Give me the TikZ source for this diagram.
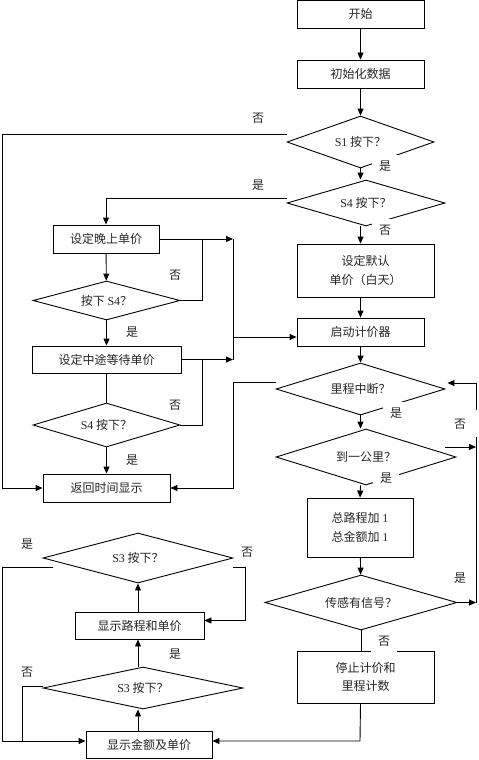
\documentclass[tikz,border=0pt]{standalone}
\usepackage{fontspec}
\setmainfont{Liberation Serif}
\newfontfamily\cjk{Noto Sans CJK SC}
\usetikzlibrary{shapes.geometric,arrows.meta,calc}
\newcommand{\lt}[1]{{\rmfamily #1}}
\begin{document}
\begin{tikzpicture}[x=1pt,y=-1pt,
  every node/.style={text=black!85},
  box/.style={draw, rectangle, inner sep=0pt, line width=0.9pt, align=center,
    font=\cjk\fontsize{12}{18.5}\selectfont},
  dia/.style={draw, diamond, aspect=3, inner sep=0pt, line width=0.9pt,
    font=\cjk\fontsize{12}{18}\selectfont},
  lab/.style={fill=white, inner xsep=7pt, inner ysep=6pt,
    font=\cjk\fontsize{12}{14}\selectfont},
  conn/.style={line width=0.9pt},
  arr/.style={conn, -{Triangle[length=7pt,width=6pt]}}]
\useasboundingbox (0,0) rectangle (479,760);
% ---- nodes ----
\node[box, minimum width=127pt, minimum height=28pt] (start) at (360.5,14) {开始};
\node[box, minimum width=127pt, minimum height=28pt] (init) at (360.5,74) {初始化数据};
\node[dia, minimum width=147pt, minimum height=52pt] (s1) at (360.5,142) {\lt{S1} 按下？};
\node[dia, minimum width=158pt, minimum height=46pt] (s4a) at (366,203) {\lt{S4} 按下？};
\node[box, minimum width=106pt, minimum height=28pt] (night) at (106,239) {设定晚上单价};
\node[dia, minimum width=147pt, minimum height=39pt] (ps4) at (106.5,300.5) {按下 \lt{S4}？};
\node[box, minimum width=149pt, minimum height=27pt] (wait) at (106.5,359.5) {设定中途等待单价};
\node[dia, minimum width=147pt, minimum height=44pt] (s4b) at (106.5,425) {\lt{S4} 按下？};
\node[box, minimum width=127pt, minimum height=28pt] (ret) at (106.5,488) {返回时间显示};
\node[box, minimum width=137pt, minimum height=53pt] (def) at (365.5,270.5) {设定默认\\单价（白天）};
\node[box, minimum width=127pt, minimum height=28pt] (startc) at (360.5,332) {启动计价器};
\node[dia, minimum width=169pt, minimum height=52pt] (mid) at (360.5,389) {里程中断？};
\node[dia, minimum width=180pt, minimum height=56pt] (km) at (366,457) {到一公里？};
\node[box, minimum width=106pt, minimum height=59pt] (add) at (360,527.5) {总路程加 \lt{1}\\总金额加 \lt{1}};
\node[dia, minimum width=192pt, minimum height=55pt] (sig) at (361,602.5) {传感有信号？};
\node[box, minimum width=137pt, minimum height=52pt] (stop) at (365.5,677) {停止计价和\\里程计数};
\node[dia, minimum width=190pt, minimum height=50pt] (s3a) at (138,558) {\lt{S3} 按下？};
\node[box, minimum width=129pt, minimum height=27pt] (route) at (139.5,625.5) {显示路程和单价};
\node[dia, minimum width=200pt, minimum height=42pt] (s3b) at (143,688) {\lt{S3} 按下？};
\node[box, minimum width=126pt, minimum height=27pt] (money) at (149,744.5) {显示金额及单价};
% ---- labels ----
\node[lab] (l1) at (258,118) {否};
\node[lab] (l2) at (385,166) {是};
\node[lab] (l3) at (258,185) {是};
\node[lab] (l4) at (385,230) {否};
\node[lab] (l5) at (175,275) {否};
\node[lab] (l6) at (132,332) {是};
\node[lab] (l7) at (175,405) {否};
\node[lab] (l8) at (132,460) {是};
\node[lab] (l9) at (396,413) {是};
\node[lab] (l10) at (460,424) {否};
\node[lab] (l11) at (386,478) {是};
\node[lab] (l12) at (460,578) {是};
\node[lab] (l13) at (384,641) {否};
\node[lab] (l14) at (27,544) {是};
\node[lab] (l15) at (247,552) {否};
\node[lab] (l16) at (175,654) {是};
\node[lab] (l17) at (27,672) {否};
% ---- coordinates ----
\coordinate (L1) at (2,134);
\coordinate (J1) at (233,239);
\coordinate (J2) at (233,337);
\coordinate (J3) at (233,359.5);
\coordinate (K1) at (202,239);
\coordinate (K2) at (202,359.5);
\coordinate (M1) at (233,382);
\coordinate (R1) at (476,383);
\coordinate (R2) at (476,410);
\coordinate (R3) at (476,437);
\coordinate (R4) at (476,602.5);
\coordinate (B1) at (360,741);
\coordinate (B2) at (2,741);
\coordinate (B3) at (22,741);
\coordinate (Y1) at (53,567);
\coordinate (Y2) at (2,567);
% ---- connectors ----
\draw[arr] (start) -- (init);
\draw[arr] (init) -- (s1);
\draw[arr] (s1.south) -- (s1.south |- s4a.north);
\draw[arr] ([yshift=8pt]s1.west) -- (L1) |- (ret.west);
\draw[arr] ([yshift=5pt]s4a.west) -| (night.north);
\draw[arr] (start.south |- s4a.south) -- (start.south |- def.north);
\draw[arr] (start.south |- def.south) -- (start.south |- startc.north);
\draw[arr] (night.east) -- (J1);
\draw[conn] (J1) -- (J3);
\draw[arr] (J2) -- (J2 -| startc.west);
\draw[conn] (ps4.east) -| (K1);
\draw[arr] (night) -- (ps4);
\draw[arr] (ps4) -- (wait);
\draw[arr] (wait.east) -- (J3);
\draw[conn] (s4b.east) -| (K2);
\draw[conn] (wait) -- (s4b);
\draw[arr] (s4b) -- (ret);
\draw[arr] ([yshift=7pt]mid.west) -- (M1) |- (ret.east);
\draw[arr] (startc) -- (mid);
\draw[arr] (mid.south) -- (mid.south |- km.north);
\draw[arr] (start.south |- km.south) -- (add.north);
\draw[arr] ([xshift=-11pt,yshift=10pt]km.east) -- ([yshift=10pt]km.east -| R1);
\draw[conn] (R4) -- (R3);
\draw[arr] (R2) -- (R1) -- ([xshift=2pt,yshift=6pt]mid.east);
\draw[arr] (sig.east) -- (R4);
\draw[arr] (add) -- (sig);
\draw[conn] (sig.south) -- (sig.south |- stop.north);
\draw[arr] (start.south |- stop.south) -- (B1) -- (B1 -| money.east);
\draw[arr] (s3a.south |- money.north) -- (s3a.south |- s3b.south);
\draw[arr] (s3a.south |- s3b.north) -- (s3a.south |- route.south);
\draw[arr] (s3a.south |- route.north) -- (s3a.south);
\draw[arr] ([yshift=-9pt]s3a.east) -- ++(12,0) |- ([yshift=5pt]route.east);
\draw[conn] (Y1) -- (Y2) -- (B2);
\draw[arr] (B2) -- (B2 -| money.west);
\draw[conn] ([yshift=2pt]s3b.west) -- (22,686) -- (B3);
\end{tikzpicture}
\end{document}
